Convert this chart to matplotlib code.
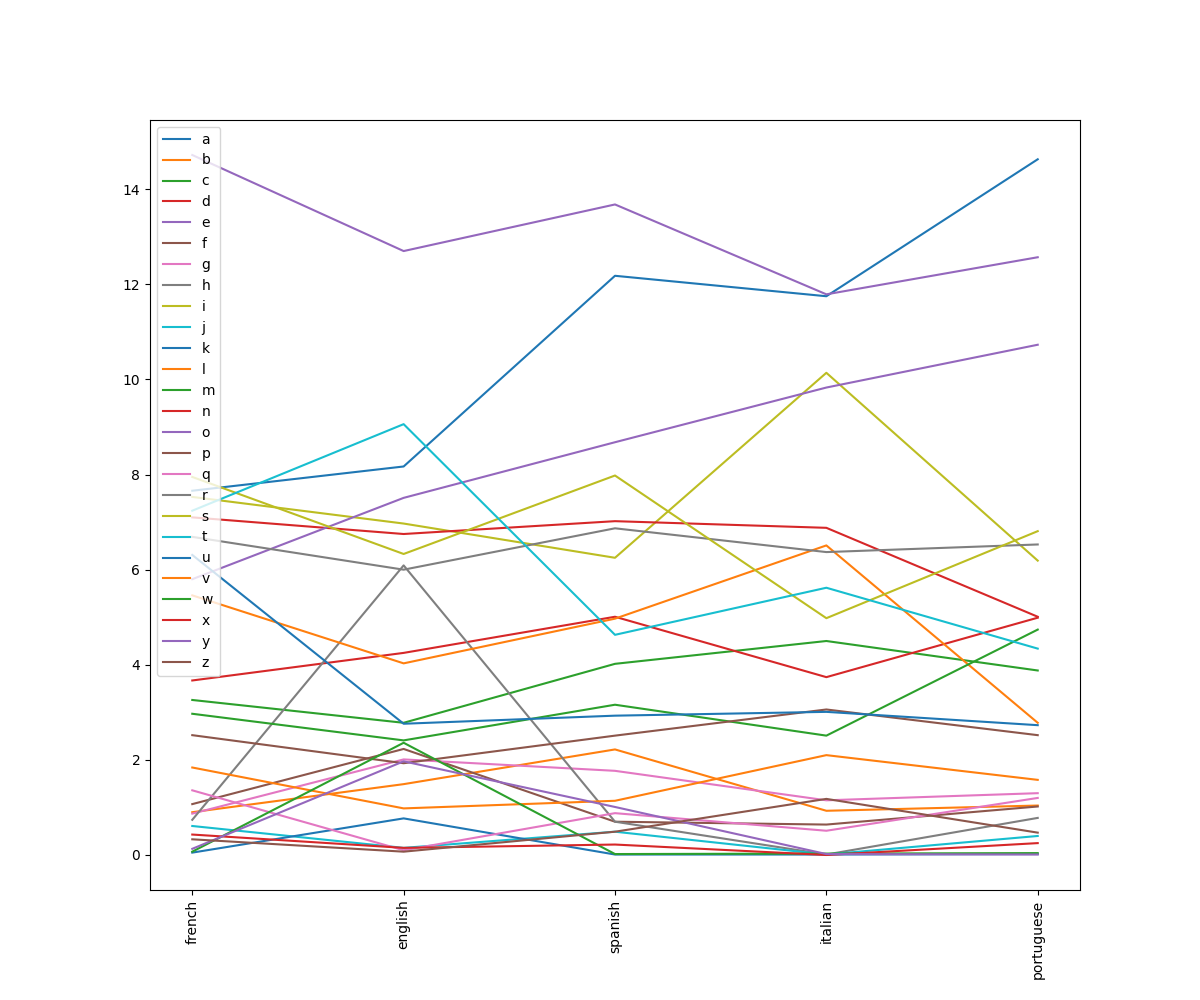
import matplotlib
matplotlib.use("Agg")
import matplotlib.pyplot as plt

languages = ["french", "english", "spanish", "italian", "portuguese"]
letters = list("abcdefghijklmnopqrstuvwxyz")

french = [7.66, 0.90, 3.26, 3.67, 14.72, 1.07, 0.87, 0.74, 7.53, 0.61, 0.05, 5.46, 2.97,
          7.10, 5.80, 2.52, 1.36, 6.69, 7.95, 7.24, 6.31, 1.84, 0.07, 0.43, 0.13, 0.33]
english = [8.17, 1.49, 2.78, 4.25, 12.70, 2.23, 2.01, 6.09, 6.97, 0.15, 0.77, 4.03, 2.41,
           6.75, 7.51, 1.93, 0.10, 6.00, 6.33, 9.06, 2.76, 0.98, 2.36, 0.15, 1.97, 0.07]
spanish = [12.18, 2.22, 4.02, 5.01, 13.68, 0.70, 1.77, 0.70, 6.25, 0.49, 0.01, 4.97, 3.16,
           7.02, 8.68, 2.51, 0.88, 6.87, 7.98, 4.63, 2.93, 1.14, 0.02, 0.22, 1.01, 0.49]
italian = [11.75, 0.93, 4.50, 3.74, 11.79, 0.64, 1.15, 0.01, 10.14, 0.01, 0.01, 6.51, 2.51,
           6.88, 9.83, 3.06, 0.51, 6.37, 4.98, 5.62, 3.01, 2.10, 0.03, 0.00, 0.02, 1.18]
portuguese = [14.63, 1.04, 3.88, 4.99, 12.57, 1.02, 1.30, 0.78, 6.19, 0.40, 0.02, 2.78, 4.74,
              5.01, 10.73, 2.52, 1.20, 6.53, 6.81, 4.34, 2.73, 1.58, 0.04, 0.25, 0.01, 0.47]

columns = [french, english, spanish, italian, portuguese]

fig, ax = plt.subplots(figsize=(12, 10), dpi=100)
for i, letter in enumerate(letters):
    ax.plot(languages, [col[i] for col in columns], label=letter)

ax.legend(loc="upper left")
plt.setp(ax.get_xticklabels(), rotation=90)
fig.savefig("out.png")
